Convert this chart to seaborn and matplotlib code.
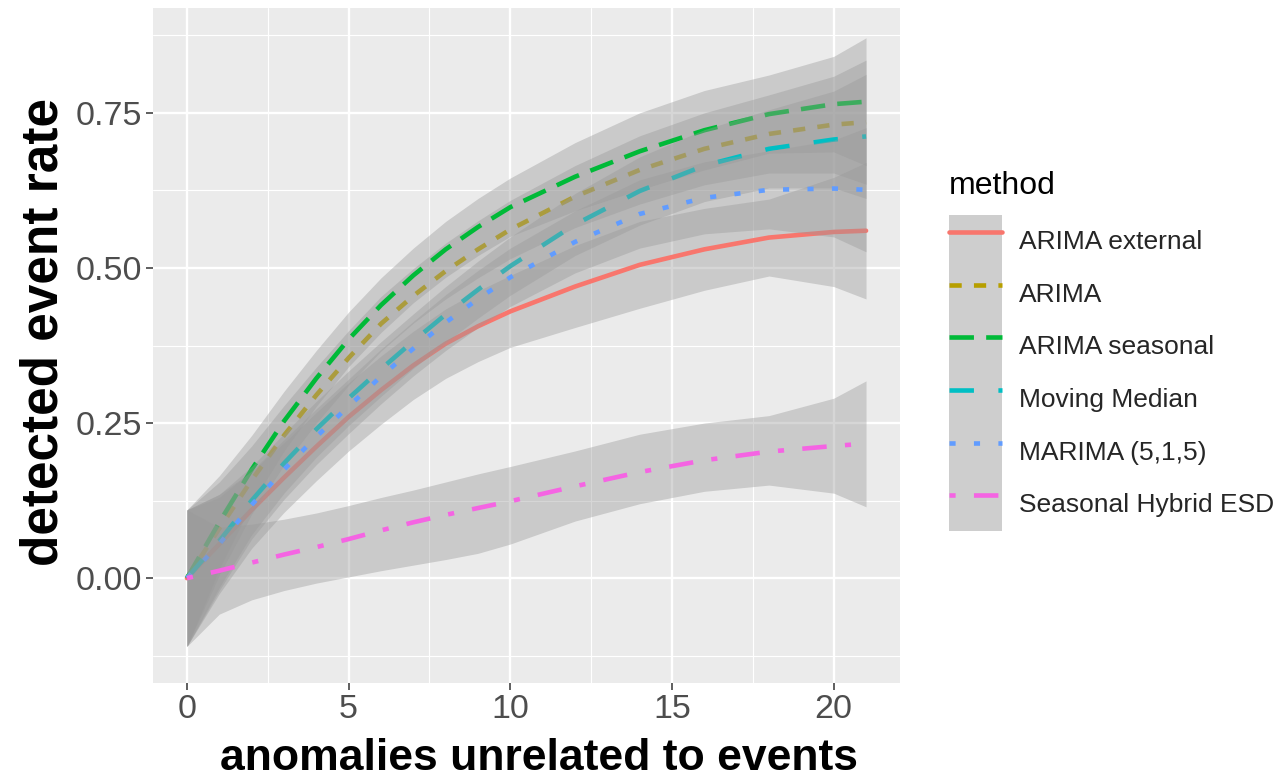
import matplotlib
matplotlib.use("Agg")
import matplotlib.pyplot as plt
import matplotlib.ticker as mticker
from matplotlib.lines import Line2D
from matplotlib.patches import Patch
from matplotlib.legend_handler import HandlerTuple
import seaborn as sns

# values
x_vals = [0, 1, 2, 3, 4, 5, 6, 7, 8, 9, 10, 12, 14, 16, 18, 20, 21]

methods = ["ARIMA external", "ARIMA", "ARIMA seasonal", "Moving Median",
           "MARIMA (5,1,5)", "Seasonal Hybrid ESD"]

fit_arima_ext = [0, .055, .11, .162, .212, .26, .303, .343, .378, .406, .43, .47, .505, .53, .549, .558, .56]
lo_arima_ext = [-.11, -.025, .048, .106, .157, .205, .248, .288, .322, .349, .372, .404, .435, .464, .487, .47, .45]
hi_arima_ext = [.11, .135, .172, .218, .267, .315, .358, .398, .434, .463, .488, .536, .575, .596, .611, .646, .67]

fit_arima = [0, .08, .158, .23, .295, .355, .41, .455, .495, .53, .562, .615, .658, .692, .716, .731, .735]
lo_arima = [-.11, .005, .103, .182, .25, .311, .366, .411, .45, .484, .515, .565, .603, .634, .653, .653, .635]
hi_arima = [.11, .155, .213, .278, .34, .399, .454, .499, .54, .576, .609, .665, .713, .75, .779, .809, .835]

fit_seasonal = [0, .09, .175, .253, .322, .385, .44, .488, .53, .566, .598, .647, .688, .722, .748, .764, .768]
lo_seasonal = [-.11, .015, .12, .205, .277, .341, .396, .444, .485, .52, .551, .592, .626, .658, .685, .687, .665]
hi_seasonal = [.11, .165, .23, .301, .367, .429, .484, .532, .575, .612, .645, .702, .75, .786, .811, .841, .871]

fit_median = [0, .06, .125, .185, .24, .29, .337, .382, .425, .465, .503, .57, .624, .665, .692, .707, .712]
lo_median = [-.11, -.015, .07, .137, .195, .246, .293, .338, .38, .419, .456, .52, .569, .607, .629, .629, .612]
hi_median = [.11, .135, .18, .233, .285, .334, .381, .426, .47, .511, .55, .62, .679, .723, .755, .785, .812]

fit_marima = [0, .055, .118, .175, .228, .277, .325, .37, .412, .45, .485, .542, .587, .613, .626, .628, .626]
lo_marima = [-.11, -.02, .063, .127, .183, .233, .281, .326, .367, .404, .438, .492, .532, .555, .563, .55, .526]
hi_marima = [.11, .13, .173, .223, .273, .321, .369, .414, .457, .496, .532, .592, .642, .671, .689, .706, .726]

fit_shesd = [0, .012, .025, .038, .05, .063, .077, .09, .102, .113, .124, .148, .171, .19, .204, .213, .217]
lo_shesd = [-.11, -.058, -.035, -.02, -.008, .002, .012, .021, .03, .04, .055, .092, .12, .14, .15, .137, .115]
hi_shesd = [.11, .082, .087, .095, .105, .117, .13, .142, .155, .168, .18, .205, .232, .25, .262, .29, .318]

fits = [fit_arima_ext, fit_arima, fit_seasonal, fit_median, fit_marima, fit_shesd]
lows = [lo_arima_ext, lo_arima, lo_seasonal, lo_median, lo_marima, lo_shesd]
highs = [hi_arima_ext, hi_arima, hi_seasonal, hi_median, hi_marima, hi_shesd]

COLORS = ["#F8766D", "#B79F00", "#00BA38", "#00BFC4", "#619CFF", "#F564E3"]
U = 4.4  # dash unit in points
STYLES = ["solid", (0, (2 * U, 2 * U)), (0, (4 * U, 2 * U)), (0, (4 * U, 4 * U)),
          (0, (1 * U, 3 * U)), (0, (1 * U, 3 * U, 4 * U, 3 * U))]

sns.set_theme(style="darkgrid", rc={
    "axes.facecolor": "#EBEBEB",
    "grid.color": "white",
    "figure.facecolor": "white",
})
plt.rcParams["font.family"] = ["Liberation Sans", "DejaVu Sans"]
plt.rcParams["lines.scale_dashes"] = False

fig = plt.figure(figsize=(12.8, 7.79), dpi=100)
ax = fig.add_axes([153 / 1280, 1 - 683 / 779, 747 / 1280, 675 / 779])

# ribbon then line for each method, like geom_smooth draws them
for i, m in enumerate(methods):
    ax.fill_between(x_vals, lows[i], highs[i], color="#999999", alpha=0.4,
                    linewidth=0, zorder=2 + 2 * i)
    sns.lineplot(x=x_vals, y=fits[i], color=COLORS[i], linewidth=3.3,
                 linestyle=STYLES[i], errorbar=None, ax=ax, zorder=3 + 2 * i)

ax.set_xlim(-1.05, 22.05)
ax.set_ylim(-0.169, 0.919)
ax.set_xticks([0, 5, 10, 15, 20])
ax.set_yticks([0, 0.25, 0.5, 0.75])
ax.xaxis.set_minor_locator(mticker.MultipleLocator(2.5))
ax.yaxis.set_minor_locator(mticker.FixedLocator([-0.125, 0.125, 0.375, 0.625, 0.875]))
ax.yaxis.set_major_formatter(mticker.FormatStrFormatter("%.2f"))
ax.grid(which="major", color="white", linewidth=1.7)
ax.grid(which="minor", color="white", linewidth=0.8)
ax.tick_params(which="major", length=5, width=1.1, color="#333333", pad=3,
               labelsize=24.5, labelcolor="#4D4D4D", bottom=True, left=True)
ax.tick_params(which="minor", length=0)
for s in ax.spines.values():
    s.set_visible(False)

ax.set_xlabel("anomalies unrelated to events", fontsize=32, fontweight="bold",
              color="black", labelpad=9)
ax.xaxis.label.set_x(0.517)
ax.set_ylabel("detected event rate", fontsize=37, fontweight="bold",
              color="black", labelpad=5)
ax.yaxis.label.set_y(0.52)

fig.text(949 / 1280, 1 - 194 / 779, "method", fontsize=23, color="black",
         ha="left", va="baseline")
handles = [(Patch(facecolor="#CECECE", edgecolor="none"),
            Line2D([], [], color=COLORS[i], linewidth=3.3, linestyle=STYLES[i]))
           for i in range(len(methods))]
leg = fig.legend(handles, methods, loc="upper left",
                 bbox_to_anchor=(949 / 1280, 1 - 215 / 779), frameon=False,
                 fontsize=19, handlelength=2.0, handleheight=2.69,
                 labelspacing=0, handletextpad=0.65, borderpad=0,
                 borderaxespad=0,
                 handler_map={tuple: HandlerTuple(ndivide=1, pad=0)})

fig.savefig("out.png", dpi=100)
